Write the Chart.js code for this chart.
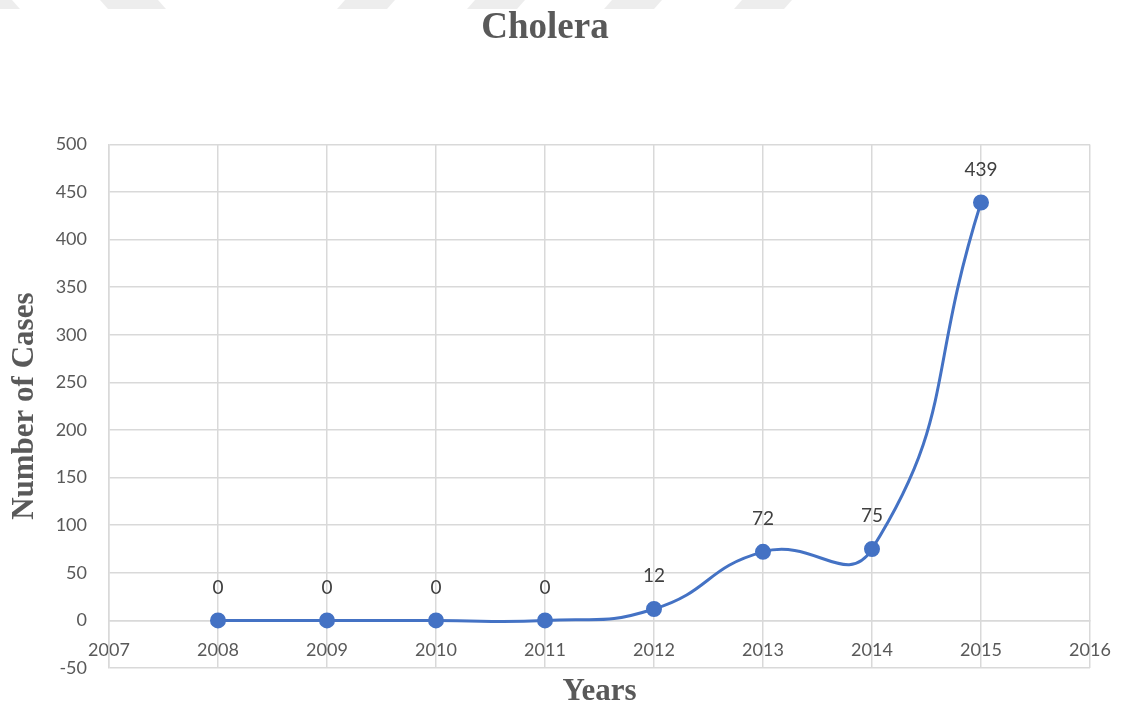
<!DOCTYPE html>
<html>
<head>
<meta charset="utf-8">
<script src="https://cdn.jsdelivr.net/npm/chart.js@4"></script>
<style>
  html, body { margin: 0; padding: 0; background: #fff; }
  #wrap { width: 1127px; height: 704px; }
</style>
</head>
<body>
<div id="wrap"><canvas id="myChart"></canvas></div>
<script>
// data
const years = [2008, 2009, 2010, 2011, 2012, 2013, 2014, 2015];
const cases = [0, 0, 0, 0, 12, 72, 75, 439];
const xTicks = [2007, 2008, 2009, 2010, 2011, 2012, 2013, 2014, 2015, 2016];
const yTicks = [-50, 0, 50, 100, 150, 200, 250, 300, 350, 400, 450, 500];

const gray = '#595959';
const gridCol = '#d9d9d9';
const blue = '#4472c4';

// labels above each point
const valueLabels = {
    id: 'valueLabels',
    afterDatasetsDraw(chart) {
        const ctx = chart.ctx;
        const meta = chart.getDatasetMeta(0);
        ctx.save();
        ctx.font = '19px Lato';
        ctx.fillStyle = '#404040';
        ctx.textAlign = 'center';
        ctx.textBaseline = 'middle';
        meta.data.forEach(function (pt, i) {
            ctx.fillText(String(cases[i]), pt.x, pt.y - 33);
        });
        ctx.restore();
    }
};

// faint stripes along the top edge of the scan
const topStripes = {
    id: 'topStripes',
    beforeDraw(chart) {
        const ctx = chart.ctx;
        const s = [[-10, 12, 1], [100, 158, 1], [345, 395, -1], [475, 525, -1], [612, 662, -1], [742, 792, -1]];
        ctx.save();
        ctx.fillStyle = '#ededed';
        s.forEach(function (r) {
            const k = 8 * r[2];
            ctx.beginPath();
            ctx.moveTo(r[0], 0);
            ctx.lineTo(r[1], 0);
            ctx.lineTo(r[1] + k, 9);
            ctx.lineTo(r[0] + k, 9);
            ctx.closePath();
            ctx.fill();
        });
        ctx.restore();
    }
};

let myChart = new Chart("myChart", {
    type: 'line',
    data: {
        datasets: [{
            label: 'Cholera',
            data: years.map(function (y, i) { return { x: y, y: cases[i] }; }),
            borderColor: blue,
            backgroundColor: blue,
            borderWidth: 3,
            pointRadius: 6.5,
            pointHoverRadius: 6.5,
            tension: 0.5,
            fill: false
        }]
    },
    options: {
        responsive: true,
        maintainAspectRatio: false,
        animation: false,
        layout: { padding: { left: 0, right: 37, top: 0, bottom: 0 } },
        plugins: {
            legend: { display: false },
            tooltip: { enabled: false },
            title: {
                display: true,
                text: 'Cholera',
                color: gray,
                font: { family: 'Liberation Serif', size: 37, weight: 'bold', lineHeight: 1.2 },
                padding: { top: 6, bottom: 94 }
            }
        },
        scales: {
            x: {
                type: 'linear',
                position: { y: 0 },
                min: 2007,
                max: 2016,
                afterBuildTicks(scale) { scale.ticks = xTicks.map(function (v) { return { value: v }; }); },
                afterFit(scale) { scale.paddingRight = 0; scale.paddingLeft = 0; },
                ticks: {
                    color: gray,
                    font: { family: 'Lato', size: 18 },
                    padding: 19,
                    maxRotation: 0,
                    callback: function (v) { return String(v); }
                },
                grid: { color: gridCol, lineWidth: 1.5, drawTicks: false },
                border: { color: gridCol, width: 1.5 }
            },
            x2: {
                type: 'linear',
                position: 'bottom',
                min: 2007,
                max: 2016,
                afterFit(scale) { scale.paddingRight = 0; scale.paddingLeft = 0; },
                ticks: { display: false },
                grid: { display: false, drawTicks: false },
                border: { display: false },
                title: {
                    display: true,
                    text: 'Years',
                    color: gray,
                    font: { family: 'Liberation Serif', size: 31, weight: 'bold', lineHeight: 1 },
                    padding: { top: 8, bottom: -3 }
                }
            },
            y: {
                min: -50,
                max: 500,
                afterBuildTicks(scale) { scale.ticks = yTicks.map(function (v) { return { value: v }; }); },
                afterFit(scale) { scale.width = 109; },
                ticks: {
                    color: gray,
                    font: { family: 'Lato', size: 18 },
                    padding: 22
                },
                grid: { color: gridCol, lineWidth: 1.5, drawTicks: false },
                border: { color: gridCol, width: 1.5 },
                title: {
                    display: true,
                    text: 'Number of Cases',
                    color: gray,
                    font: { family: 'Liberation Serif', size: 31, weight: 'bold' },
                    padding: { top: 6, bottom: 0 }
                }
            }
        }
    },
    plugins: [topStripes, valueLabels]
});
</script>
</body>
</html>
